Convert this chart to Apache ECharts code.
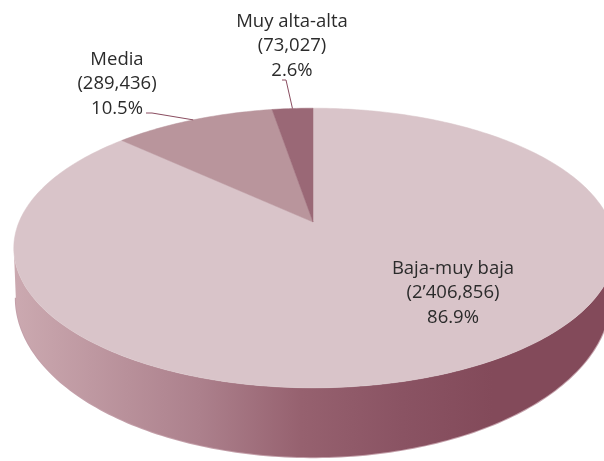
<!DOCTYPE html>
<html>
<head>
<meta charset="utf-8">
<style>html,body{margin:0;padding:0;background:#fff}#c{width:604px;height:461px}</style>
<script src="https://cdn.jsdelivr.net/npm/echarts@6/dist/echarts.min.js"></script>
</head>
<body>
<div id="c"></div>
<script>
const categories = ['Baja-muy baja', 'Media', 'Muy alta-alta'];
const values = [2406856, 289436, 73027];
const valueLabels = ['(2’406,856)', '(289,436)', '(73,027)'];
const percentLabels = ['86.9%', '10.5%', '2.6%'];
const sliceColors = ['#d9c4c9', '#b9959c', '#9a6876'];

const FONT = '"Open Sans", sans-serif';
const LABEL_POS = [[453, 293], [117, 84], [292, 46]];
const LEADER_START = [null, [[146, 113], [152, 113]], [[282, 80], [286, 80]]];

const CX = 313, CY = 222, K = 0.186, H = 135;
const R_LEFT = 294, R_RIGHT = 297;
const BASE_Y = 268, BASE_H = 154, BASE_R_LEFT = 292, BASE_R_RIGHT = 292;
const total = values.reduce((a, b) => a + b, 0);
const starts = [];
values.reduce((acc, v, i) => { starts[i] = acc; return acc + v / total * 360; }, 0);

function proj(deg, cy, h, rl, rr) {
  const t = deg * Math.PI / 180, u = Math.sin(t), v = Math.cos(t), w = 1 + K * v;
  return [CX + (u < 0 ? rl : rr) * u / w, cy - h * v / w];
}
const top_ = d => proj(d, CY, H, R_LEFT, R_RIGHT);
const base = d => proj(d, BASE_Y, BASE_H, BASE_R_LEFT, BASE_R_RIGHT);
function arc(fn, a, b) {
  const n = Math.max(2, Math.ceil(Math.abs(b - a))), pts = [];
  for (let i = 0; i <= n; i++) pts.push(fn(a + (b - a) * i / n));
  return pts;
}
const FRONT = [Math.acos(-K) * 180 / Math.PI, 360 - Math.acos(-K) * 180 / Math.PI];
const wallFill = new echarts.graphic.LinearGradient(15, 0, 612, 0, [
  { offset: 0, color: '#cba9b0' },
  { offset: 0.31, color: '#ac808c' },
  { offset: 0.48, color: '#96616f' },
  { offset: 0.65, color: '#8a5363' },
  { offset: 0.8, color: '#834a5a' },
  { offset: 1, color: '#834a5a' }
], true);

function range(i) { return [starts[i], starts[i] + values[i] / total * 360]; }

function renderWall(params) {
  const [a, b] = range(params.dataIndex);
  const lo = Math.max(a, FRONT[0]), hi = Math.min(b, FRONT[1]);
  if (hi <= lo) return { type: 'group', children: [] };
  const t = arc(top_, lo, hi), bs = arc(base, lo, hi);
  return { type: 'group', children: [
    { type: 'polyline', shape: { points: bs }, style: { fill: null, stroke: '#c4a0aa', lineWidth: 2 } },
    { type: 'polygon', shape: { points: t.concat(bs.slice().reverse()) }, style: { fill: wallFill } }
  ] };
}
function renderTop(params) {
  const [a, b] = range(params.dataIndex), c = sliceColors[params.dataIndex];
  return { type: 'polygon', shape: { points: [[CX, CY]].concat(arc(top_, a, b)) },
    style: { fill: c, stroke: c, lineWidth: 0.5 } };
}
function renderLabel(params) {
  const i = params.dataIndex, children = [];
  if (LEADER_START[i]) {
    const [a, b] = range(i);
    children.push({ type: 'polyline', shape: { points: LEADER_START[i].concat([top_((a + b) / 2)]) },
      style: { fill: null, stroke: '#8a4d60', lineWidth: 1 } });
  }
  children.push({ type: 'text', style: {
    x: LABEL_POS[i][0], y: LABEL_POS[i][1], align: 'center', verticalAlign: 'middle',
    text: categories[i] + '\n' + valueLabels[i] + '\n' + percentLabels[i],
    fontFamily: FONT, fontSize: 18.5, lineHeight: 24.5, fill: '#2b2b2b'
  } });
  return { type: 'group', children };
}
const data = values.map((v, i) => ({ name: categories[i], value: v }));
const chart = echarts.init(document.getElementById('c'), null, { width: 604, height: 461 });
chart.setOption({
  backgroundColor: '#fff',
  animation: false,
  series: [
    { type: 'custom', coordinateSystem: 'none', silent: true, data, renderItem: renderWall, z: 1 },
    { type: 'custom', coordinateSystem: 'none', silent: true, data, renderItem: renderTop, z: 2 },
    { type: 'custom', coordinateSystem: 'none', silent: true, data, renderItem: renderLabel, z: 3 }
  ]
});
</script>
</body>
</html>
